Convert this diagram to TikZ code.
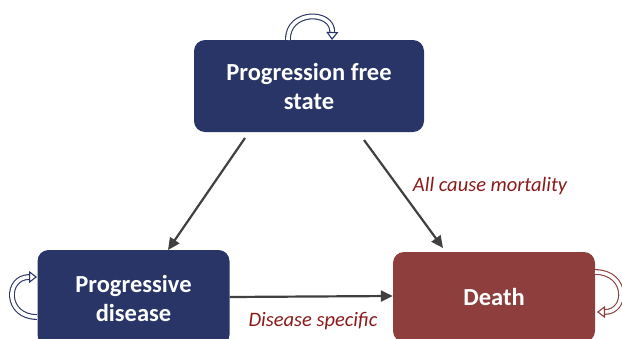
\documentclass[tikz,border=0pt]{standalone}
\usepackage{fontspec}
\setmainfont{Carlito}
\usetikzlibrary{arrows.meta}
\definecolor{navy}{HTML}{283566}
\definecolor{deathred}{HTML}{8E3F3D}
\definecolor{arrgray}{HTML}{404040}
\definecolor{lblred}{HTML}{8B1A1A}
\tikzset{
  statebox/.style={rounded corners=11pt, draw=none, text=white, font=\bfseries\fontsize{24.5}{29}\selectfont, align=center, inner sep=0pt},
  arr/.style={draw=arrgray, line width=2.2pt, -{Triangle[length=12pt,width=11pt]}},
  lbl/.style={text=lblred, font=\itshape\fontsize{20.5}{24}\selectfont, inner sep=0pt},
  loopnavy/.style={draw=navy, double=white, line width=1.1pt, double distance=3.6pt, -{Triangle[open, fill=white, length=8pt, width=12pt]}},
  loopred/.style={draw=deathred, double=white, line width=1.1pt, double distance=3.6pt, -{Triangle[open, fill=white, length=8pt, width=12pt]}}
}
\begin{document}
\begin{tikzpicture}[x=1pt,y=-1pt]
\useasboundingbox (0,0) rectangle (622,338);
\clip (0,0) rectangle (622,338);
\node[statebox, fill=navy, minimum width=230pt, minimum height=92pt] (pfs) at (309,86) {Progression free\\state};
\node[statebox, fill=navy, minimum width=192pt, minimum height=96pt] (pd) at (133.5,298) {Progressive\\disease};
\node[statebox, fill=deathred, minimum width=202pt, minimum height=90pt] (death) at (494,297) {Death};
\coordinate (a1s) at (245,138);
\coordinate (a1e) at (168,250);
\coordinate (a2s) at (364,140);
\coordinate (a2e) at (443,248);
\draw[arr] (a1s) -- (a1e);
\draw[arr] (a2s) -- (a2e);
\draw[arr] (pd.east |- 0,297) -- (death.west |- 0,296);
\node[lbl] (l1) at (490,186) {All cause mortality};
\node[lbl] (l2) at (313,321) {Disease specific};
\coordinate (p1) at (288,40);
\coordinate (p2) at (332,40);
\draw[loopnavy] (p1) .. controls (287,10) and (333,10) .. (p2);
\coordinate (q1) at (37,317);
\coordinate (q2) at (37,277);
\draw[loopnavy] (q1) .. controls (5,317) and (5,277) .. (q2);
\coordinate (r1) at (595,272);
\coordinate (r2) at (597,312);
\draw[loopred] (r1) .. controls (628,272) and (628,312) .. (r2);
\end{tikzpicture}
\end{document}
